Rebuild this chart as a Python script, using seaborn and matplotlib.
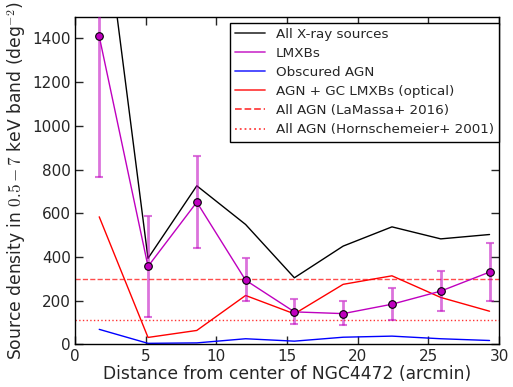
import numpy as np
import pandas as pd
import matplotlib
matplotlib.use("Agg")
import matplotlib.pyplot as plt
import seaborn as sns

# bin centres (arcmin)
distance = [1.72, 5.17, 8.62, 12.07, 15.52, 18.97, 22.42, 25.87, 29.32]

all_xray = [2140, 394, 726, 549, 305, 450, 538, 483, 503]
lmxb = [1410, 357, 651, 294, 149, 141, 184, 244, 331]
lmxb_err_lo = [645, 232, 211, 94, 54, 53, 70, 92, 130]
lmxb_err_hi = [645, 232, 211, 100, 60, 56, 72, 93, 131]
obscured_agn = [69, 5, 7, 26, 15, 33, 38, 26, 18]
agn_gc_optical = [584, 32, 64, 224, 140, 275, 314, 215, 152]

lamassa_level = 300
hornschemeier_level = 110

sns.set_style("ticks")
plt.rcParams["font.family"] = ["DejaVu Sans"]
plt.rcParams["mathtext.fontset"] = "cm"

df = pd.DataFrame({
    "distance": distance,
    "all": all_xray,
    "lmxb": lmxb,
    "obsc": obscured_agn,
    "opt": agn_gc_optical,
})

fig = plt.figure(figsize=(5.13, 3.87), dpi=100)
ax = fig.add_axes([0.146, 0.110, 0.827, 0.847])

sns.lineplot(data=df, x="distance", y="all", color="black", lw=1, ax=ax, label="All X-ray sources")
sns.lineplot(data=df, x="distance", y="lmxb", color="#bf00bf", lw=1, ax=ax, label="LMXBs", zorder=4)
sns.lineplot(data=df, x="distance", y="obsc", color="blue", lw=1, ax=ax, label="Obscured AGN")
sns.lineplot(data=df, x="distance", y="opt", color="red", lw=1, ax=ax, label="AGN + GC LMXBs (optical)")
ax.axhline(lamassa_level, color="red", ls="--", lw=1, alpha=0.7, label="All AGN (LaMassa+ 2016)")
ax.axhline(hornschemeier_level, color="red", ls=":", lw=1, alpha=0.8, label="All AGN (Hornschemeier+ 2001)")

ax.errorbar(distance, lmxb, yerr=[lmxb_err_lo, lmxb_err_hi], fmt="none",
            ecolor="#bf00bf", elinewidth=2, alpha=0.55, capsize=3, capthick=1.5, zorder=3)
ax.scatter(distance, lmxb, s=30, color="#bf00bf", edgecolor="black", linewidth=0.8, zorder=5)

ax.set_xlim(0, 30)
ax.set_ylim(0, 1500)
ax.set_xticks(range(0, 31, 5))
ax.set_yticks(range(0, 1401, 200))
ax.tick_params(direction="in", top=True, right=True, length=6, width=1, labelsize=11, pad=3)
for s in ax.spines.values():
    s.set_linewidth(1)
    s.set_color("black")

ax.set_xlabel("Distance from center of NGC4472 (arcmin)", fontsize=12.3, labelpad=1)
ax.set_ylabel(r"Source density in $0.5-7$ keV band (deg$^{-2}$)", fontsize=12.3, labelpad=3)

leg = ax.legend(loc="upper right", bbox_to_anchor=(1.0, 0.982), fontsize=9.7, frameon=True,
                fancybox=False, borderaxespad=0, handlelength=2.2, handletextpad=0.8,
                labelspacing=0.45)
leg.get_frame().set_edgecolor("black")
leg.get_frame().set_linewidth(1)
leg.get_frame().set_alpha(1)
for h in leg.get_lines():
    h.set_alpha(0.75)
    h.set_linewidth(1.3)

fig.savefig("out.png", dpi=100)
